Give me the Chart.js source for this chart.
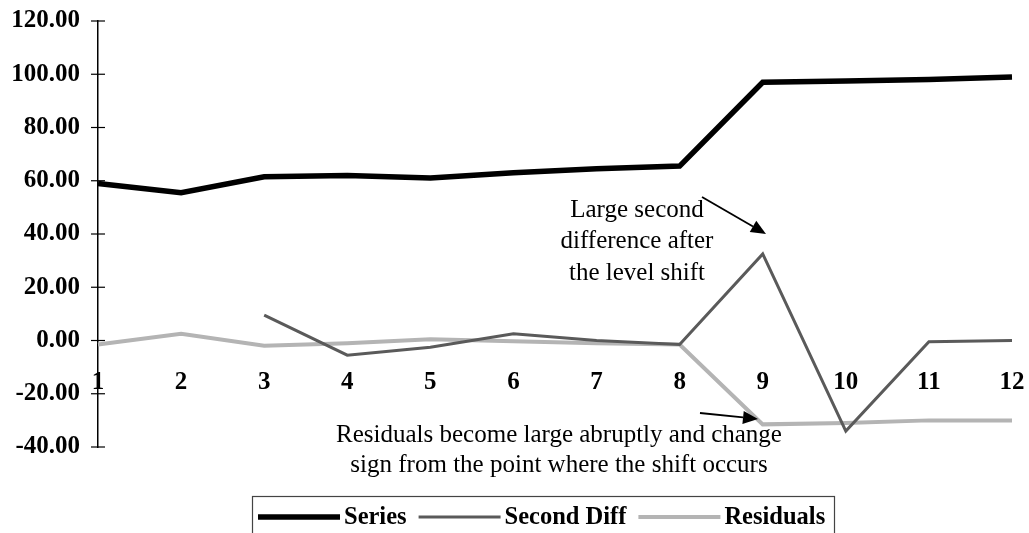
<!DOCTYPE html>
<html>
<head>
<meta charset="utf-8">
<script src="https://cdn.jsdelivr.net/npm/chart.js@4/dist/chart.umd.min.js"></script>
<style>
	html, body { margin: 0; padding: 0; background: #fff; overflow: hidden; }
	#levelChart { display: block; }
</style>
</head>
<body>
<canvas id="levelChart" width="1029" height="533"></canvas>
<script>
let categories = ['1','2','3','4','5','6','7','8','9','10','11','12'];
let series_values = [59, 55.5, 61.5, 62, 61, 63, 64.5, 65.5, 97, 97.5, 98, 99];
let second_diff_values = [null, null, 9.5, -5.5, -2.5, 2.5, 0, -1.5, 32.5, -34, -0.5, 0];
let residual_values = [-1.5, 2.5, -2, -1, 0.5, -0.3, -1, -1.5, -31.5, -31, -30, -30];
let y_ticks = [-40, -20, 0, 20, 40, 60, 80, 100, 120];

const SERIF = '"Liberation Serif", "DejaVu Serif", serif';

// text notes + arrows, placed in pixels
let notes = [
	{ lines: ['Large second', 'difference after', 'the level shift'], x: 637, y: 210, step: 31.5,
	  arrow: [702, 197, 766, 234] },
	{ lines: ['Residuals become large abruptly and change', 'sign from the point where the shift occurs'], x: 559, y: 435, step: 30,
	  arrow: [700, 413, 758, 419] }
];

function drawArrow(ctx, x1, y1, x2, y2) {
	let a = Math.atan2(y2 - y1, x2 - x1);
	let head = 15, wing = 6.5;
	let bx = x2 - head * Math.cos(a), by = y2 - head * Math.sin(a);
	ctx.beginPath();
	ctx.moveTo(x1, y1);
	ctx.lineTo(bx, by);
	ctx.lineWidth = 1.8;
	ctx.strokeStyle = '#000';
	ctx.stroke();
	ctx.beginPath();
	ctx.moveTo(x2, y2);
	ctx.lineTo(bx + wing * Math.sin(a), by - wing * Math.cos(a));
	ctx.lineTo(bx - wing * Math.sin(a), by + wing * Math.cos(a));
	ctx.closePath();
	ctx.fillStyle = '#000';
	ctx.fill();
}

const extras = {
	id: 'extras',
	afterDraw(chart) {
		const ctx = chart.ctx;
		const y = chart.scales.y;
		ctx.save();
		// tick marks crossing the value axis
		ctx.strokeStyle = '#000';
		ctx.lineWidth = 1.2;
		y.ticks.forEach(t => {
			let py = y.getPixelForValue(t.value);
			ctx.beginPath();
			ctx.moveTo(y.right - 7, py);
			ctx.lineTo(y.right + 7, py);
			ctx.stroke();
		});

		// notes
		ctx.fillStyle = '#000';
		ctx.font = '25px ' + SERIF;
		ctx.textAlign = 'center';
		ctx.textBaseline = 'middle';
		notes.forEach(n => {
			n.lines.forEach((s, i) => ctx.fillText(s, n.x, n.y + i * n.step));
			drawArrow(ctx, ...n.arrow);
		});

		// legend box
		ctx.strokeStyle = '#444';
		ctx.lineWidth = 1.2;
		ctx.strokeRect(252.5, 496.5, 582, 60);
		let lx = 258, ly = 517;
		ctx.font = 'bold 24.5px ' + SERIF;
		ctx.textAlign = 'left';
		chart.data.datasets.forEach(ds => {
			ctx.beginPath();
			ctx.moveTo(lx, ly);
			ctx.lineTo(lx + 82, ly);
			ctx.strokeStyle = ds.borderColor;
			ctx.lineWidth = ds.borderWidth;
			ctx.stroke();
			ctx.fillStyle = '#000';
			ctx.fillText(ds.label, lx + 86, ly + 1);
			lx += 86 + ctx.measureText(ds.label).width + 12;
		});
		ctx.restore();
	}
};

let chart_data = {
	labels: categories,
	datasets: [{
		label: 'Series',
		data: series_values,
		borderColor: '#000',
		borderWidth: 5.5,
	}, {
		label: 'Second Diff',
		data: second_diff_values,
		borderColor: '#5a5a5a',
		borderWidth: 3,
	}, {
		label: 'Residuals',
		data: residual_values,
		borderColor: '#b4b4b4',
		borderWidth: 4,
	}]
};

let chart_options = {
	responsive: false,
	animation: false,
	devicePixelRatio: 1,
	layout: { padding: { top: 21, bottom: 86, left: 0, right: 17 } },
	elements: {
		point: { radius: 0 },
		line: { tension: 0, borderJoinStyle: 'miter', borderCapStyle: 'butt' }
	},
	datasets: { line: { clip: false, spanGaps: false } },
	plugins: { legend: { display: false }, tooltip: { enabled: false } },
	scales: {
		x: {
			type: 'category',
			offset: false,
			position: { y: 0 },
			afterFit: scale => { scale.paddingLeft = 0; scale.paddingRight = 0; },
			grid: { display: false, drawTicks: false },
			border: { display: false },
			ticks: {
				padding: 27,
				color: '#000',
				maxRotation: 0,
				autoSkip: false,
				font: { family: SERIF, size: 25, weight: 'bold' }
			}
		},
		y: {
			min: -40,
			max: 120,
			afterBuildTicks: scale => { scale.ticks = y_ticks.map(v => ({ value: v })); },
			afterFit: scale => { scale.width = 98; scale.paddingTop = 0; scale.paddingBottom = 0; },
			grid: { display: false },
			border: { display: true, color: '#000', width: 1.5 },
			ticks: {
				padding: 10,
				color: '#000',
				font: { family: SERIF, size: 25, weight: 'bold' },
				callback: v => Number(v).toFixed(2)
			}
		}
	}
};

let levelChart = new Chart(document.getElementById('levelChart'), {
	type: 'line',
	data: chart_data,
	options: chart_options,
	plugins: [extras]
});
</script>
</body>
</html>
